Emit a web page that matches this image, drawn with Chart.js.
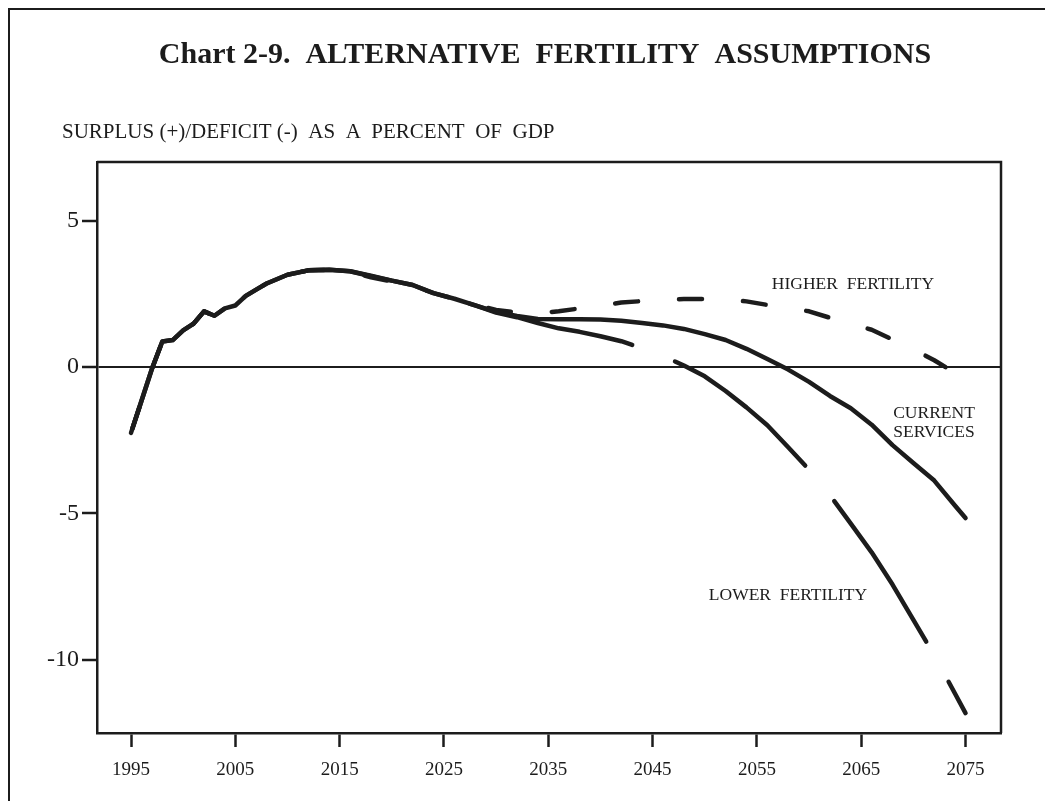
<!DOCTYPE html>
<html>
<head>
<meta charset="utf-8">
<title>Chart 2-9. Alternative Fertility Assumptions</title>
<script src="https://cdn.jsdelivr.net/npm/chart.js@4.4.1/dist/chart.umd.min.js"></script>
<style>
  html, body { margin: 0; padding: 0; background: #fff; }
  #wrap { width: 1045px; height: 801px; position: relative; }
</style>
</head>
<body>
<div id="wrap"><canvas id="fertChart"></canvas></div>
<script>
const years = [1995, 1996, 1997, 1998, 1999, 2000, 2001, 2002, 2003, 2004, 2005, 2006, 2007, 2008,
  2010, 2012, 2014, 2016, 2018, 2020, 2022, 2024, 2026, 2028, 2030, 2032, 2034, 2036, 2038,
  2040, 2042, 2044, 2046, 2048, 2050, 2052, 2054, 2056, 2058, 2060, 2062, 2064, 2066, 2068,
  2070, 2072, 2074, 2075];

const currentServices = [-2.25, -1.16, -0.07, 0.87, 0.92, 1.25, 1.48, 1.9, 1.75, 2.0, 2.1, 2.43, 2.64, 2.85,
  3.15, 3.3, 3.32, 3.27, 3.12, 2.95, 2.8, 2.52, 2.33, 2.1, 1.88, 1.74, 1.64, 1.63, 1.63,
  1.62, 1.58, 1.5, 1.42, 1.3, 1.12, 0.92, 0.62, 0.27, -0.09, -0.51, -0.99, -1.41, -1.97, -2.67,
  -3.28, -3.88, -4.74, -5.16];

const higherFertility = [-2.25, -1.16, -0.07, 0.87, 0.92, 1.25, 1.48, 1.9, 1.75, 2.0, 2.1, 2.43, 2.64, 2.85,
  3.15, 3.3, 3.32, 3.25, 3.06, 2.92, 2.78, 2.52, 2.33, 2.12, 1.95, 1.86, 1.84, 1.9, 2.0,
  2.1, 2.2, 2.25, 2.3, 2.32, 2.32, 2.3, 2.24, 2.12, 2.02, 1.9, 1.68, 1.47, 1.27, 0.94,
  0.6, 0.23, -0.2, -0.42];

const lowerFertility = [-2.25, -1.16, -0.07, 0.87, 0.92, 1.25, 1.48, 1.9, 1.75, 2.0, 2.1, 2.43, 2.64, 2.85,
  3.15, 3.3, 3.32, 3.27, 3.1, 2.95, 2.8, 2.52, 2.33, 2.1, 1.86, 1.7, 1.5, 1.32, 1.2,
  1.05, 0.88, 0.64, 0.37, 0.05, -0.32, -0.82, -1.38, -1.99, -2.74, -3.51, -4.38, -5.35, -6.33, -7.43,
  -8.64, -9.84, -11.16, -11.82];

const xTicks = [1995, 2005, 2015, 2025, 2035, 2045, 2055, 2065, 2075];
const yTicks = [-10, -5, 0, 5];

const SERIF = "'Liberation Serif', 'Times New Roman', serif";
const INK = "#1c1c1c";

function toPoints(values) {
  return values.map((v, i) => ({ x: years[i], y: v }));
}

const decor = {
  id: "decor",
  afterDraw(chart) {
    const ctx = chart.ctx;
    const a = chart.chartArea;
    ctx.save();

    // outer frame (top and left only)
    ctx.strokeStyle = INK;
    ctx.lineWidth = 2;
    ctx.beginPath();
    ctx.moveTo(9, 801);
    ctx.lineTo(9, 9);
    ctx.lineTo(1045, 9);
    ctx.stroke();

    // top and right of plot box
    ctx.lineWidth = 2.5;
    ctx.beginPath();
    ctx.moveTo(a.left, a.top);
    ctx.lineTo(a.right, a.top);
    ctx.lineTo(a.right, a.bottom);
    ctx.stroke();

    ctx.fillStyle = INK;
    ctx.textBaseline = "middle";

    ctx.textAlign = "center";
    ctx.font = "bold 30px " + SERIF;
    ctx.fillText("Chart 2-9.  ALTERNATIVE  FERTILITY  ASSUMPTIONS", 545, 55);

    ctx.textAlign = "left";
    ctx.font = "21px " + SERIF;
    ctx.fillText("SURPLUS (+)/DEFICIT (-)  AS  A  PERCENT  OF  GDP", 62, 132);

    ctx.font = "17.5px " + SERIF;
    ctx.textAlign = "center";
    ctx.fillText("HIGHER  FERTILITY", 853, 284);
    ctx.fillText("CURRENT", 934, 413);
    ctx.fillText("SERVICES", 934, 432);
    ctx.fillText("LOWER  FERTILITY", 788, 595);

    ctx.restore();
  }
};

function initChart() {
  const canvas = document.getElementById("fertChart");

  new Chart(canvas, {
    type: "line",
    data: {
      datasets: [
        {
          label: "Current services",
          data: toPoints(currentServices),
          borderColor: INK,
          borderWidth: 4.5,
          borderCapStyle: "round",
          borderJoinStyle: "round",
          pointRadius: 0,
          tension: 0
        },
        {
          label: "Higher fertility",
          data: toPoints(higherFertility),
          borderColor: INK,
          borderWidth: 4.5,
          borderDash: [23, 41],
          borderDashOffset: 60,
          borderCapStyle: "round",
          borderJoinStyle: "round",
          pointRadius: 0,
          tension: 0
        },
        {
          label: "Lower fertility",
          data: toPoints(lowerFertility),
          borderColor: INK,
          borderWidth: 4.5,
          borderDash: [168, 46],
          borderDashOffset: 209,
          borderCapStyle: "round",
          borderJoinStyle: "round",
          pointRadius: 0,
          tension: 0
        }
      ]
    },
    options: {
      responsive: true,
      maintainAspectRatio: false,
      animation: false,
      layout: { padding: { left: 0, top: 162, right: 44, bottom: 0 } },
      plugins: {
        legend: { display: false },
        title: { display: false },
        tooltip: { enabled: false }
      },
      scales: {
        x: {
          type: "linear",
          min: 1991.74,
          max: 2078.4,
          afterBuildTicks: (scale) => { scale.ticks = xTicks.map(v => ({ value: v })); },
          afterFit: (scale) => { scale.height = 68; },
          border: { display: true, color: INK, width: 2.5 },
          grid: { drawOnChartArea: false, drawTicks: true, tickLength: 14, tickColor: INK, tickWidth: 2.5 },
          ticks: {
            color: INK,
            padding: 12,
            maxRotation: 0,
            autoSkip: false,
            font: { family: SERIF, size: 19 },
            callback: (v) => String(v)
          }
        },
        y: {
          type: "linear",
          min: -12.5,
          max: 7.0,
          afterBuildTicks: (scale) => { scale.ticks = yTicks.map(v => ({ value: v })); },
          afterFit: (scale) => { scale.width = 97; },
          border: { display: true, color: INK, width: 2.5 },
          grid: {
            drawOnChartArea: true,
            color: (c) => (c.tick && c.tick.value === 0 ? INK : "rgba(0,0,0,0)"),
            lineWidth: 2,
            drawTicks: true,
            tickLength: 15,
            tickColor: INK,
            tickWidth: 2.5
          },
          ticks: {
            color: INK,
            padding: 3,
            font: { family: SERIF, size: 24 },
            callback: (v) => String(v)
          }
        }
      }
    },
    plugins: [decor]
  });
}

document.addEventListener("DOMContentLoaded", initChart);
</script>
</body>
</html>
